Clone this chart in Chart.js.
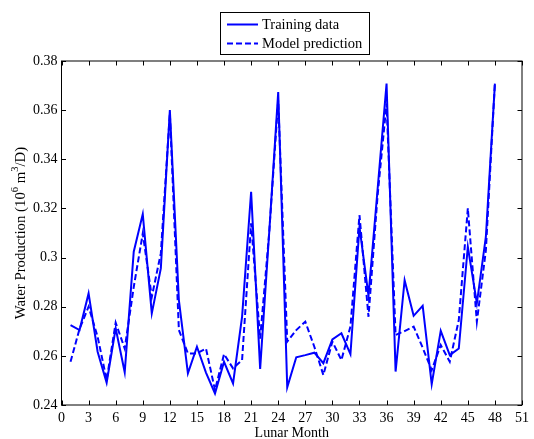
<!DOCTYPE html>
<html>
<head>
<meta charset="utf-8">
<script src="https://cdn.jsdelivr.net/npm/chart.js@4/dist/chart.umd.min.js"></script>
<style>
  html, body { margin: 0; padding: 0; background: #fff; }
  #wrap { width: 534px; height: 439px; }
</style>
</head>
<body>
<div id="wrap"><canvas id="chart" width="534" height="439"></canvas></div>
<script>
const months = [1, 2, 3, 4, 5, 6, 7, 8, 9, 10, 11, 12, 13, 14, 15, 16, 17, 18, 19, 20, 21, 22, 23, 24,
    25, 26, 27, 28, 29, 30, 31, 32, 33, 34, 35, 36, 37, 38, 39, 40, 41, 42, 43, 44, 45, 46, 47, 48];

const trainingData = [
    0.2725, 0.2705, 0.2854, 0.2617, 0.2491, 0.2712, 0.2533, 0.3024, 0.3177, 0.2773, 0.2956, 0.3600,
    0.2827, 0.2529, 0.2637, 0.2532, 0.2447, 0.2576, 0.2488, 0.2760, 0.3268, 0.2547, 0.3100, 0.3674,
    0.2472, 0.2594, 0.2603, 0.2613, 0.2570, 0.2667, 0.2692, 0.2607, 0.3125, 0.2845, 0.3275, 0.3708,
    0.2536, 0.2908, 0.2763, 0.2804, 0.2485, 0.2702, 0.2603, 0.2630, 0.3044, 0.2814, 0.3085, 0.3708
];

const modelPrediction = [
    0.2576, 0.2710, 0.2800, 0.2678, 0.2502, 0.2735, 0.2630, 0.2880, 0.3098, 0.2840, 0.3017, 0.3587,
    0.2705, 0.2610, 0.2610, 0.2630, 0.2461, 0.2607, 0.2549, 0.2583, 0.3139, 0.2670, 0.3100, 0.3640,
    0.2658, 0.2705, 0.2739, 0.2637, 0.2522, 0.2658, 0.2583, 0.2719, 0.3173, 0.2759, 0.3250, 0.3627,
    0.2685, 0.2701, 0.2719, 0.2633, 0.2542, 0.2644, 0.2576, 0.2746, 0.3200, 0.2739, 0.3030, 0.3711
];

const seriesNames = ['Training data', 'Model prediction'];
const xTitle = 'Lunar Month';
const yTitleParts = [['Water Production (10', false], ['6', true], [' m', false], ['3', true], ['/D)', false]];

const blue = '#0000ff';
const serif = '"Liberation Serif", "Times New Roman", serif';

// box, inward ticks, legend and axis titles (matlab look)
const matlabFrame = {
    id: 'matlabFrame',
    afterDraw(chart) {
        const ctx = chart.ctx;
        const a = chart.chartArea;
        const xs = chart.scales.x, ys = chart.scales.y;
        ctx.save();
        ctx.strokeStyle = '#000';
        ctx.lineWidth = 1;
        ctx.strokeRect(a.left, a.top, a.right - a.left, a.bottom - a.top);

        const tl = 4.5;
        ctx.beginPath();
        xs.ticks.forEach(t => {
            const px = Math.round(xs.getPixelForValue(t.value)) + 0.5;
            ctx.moveTo(px, a.bottom); ctx.lineTo(px, a.bottom - tl);
            ctx.moveTo(px, a.top); ctx.lineTo(px, a.top + tl);
        });
        ys.ticks.forEach(t => {
            const py = Math.round(ys.getPixelForValue(t.value)) + 0.5;
            ctx.moveTo(a.left, py); ctx.lineTo(a.left + tl, py);
            ctx.moveTo(a.right, py); ctx.lineTo(a.right - tl, py);
        });
        ctx.stroke();

        // legend
        ctx.strokeRect(220.5, 12.5, 149, 42);
        const rows = [24.5, 43.5];
        ctx.font = '14.5px ' + serif;
        ctx.textBaseline = 'middle';
        ctx.fillStyle = '#000';
        chart.data.datasets.forEach((ds, i) => {
            ctx.save();
            ctx.strokeStyle = ds.borderColor;
            ctx.lineWidth = 2;
            ctx.setLineDash(ds.borderDash || []);
            ctx.beginPath();
            ctx.moveTo(227, rows[i]);
            ctx.lineTo(258, rows[i]);
            ctx.stroke();
            ctx.restore();
            ctx.fillText(ds.label, 262, rows[i] + 0.5);
        });

        // x title
        ctx.font = '14px ' + serif;
        ctx.textAlign = 'center';
        ctx.fillText(xTitle, (a.left + a.right) / 2, 433);

        // y title with superscripts, centred on the plot
        const fontFor = sup => (sup ? '10.5px ' : '14.8px ') + serif;
        let total = 0;
        yTitleParts.forEach(([txt, sup]) => {
            ctx.font = fontFor(sup);
            total += ctx.measureText(txt).width;
        });
        ctx.translate(21.5, (a.top + a.bottom) / 2 + total / 2);
        ctx.rotate(-Math.PI / 2);
        ctx.textAlign = 'left';
        ctx.textBaseline = 'middle';
        let x = 0;
        yTitleParts.forEach(([txt, sup]) => {
            ctx.font = fontFor(sup);
            ctx.fillText(txt, x, sup ? -6 : 0);
            x += ctx.measureText(txt).width;
        });
        ctx.restore();
    }
};

new Chart(document.getElementById('chart'), {
    type: 'line',
    data: {
        datasets: [
            {
                label: seriesNames[0],
                data: months.map((m, i) => ({ x: m, y: trainingData[i] })),
                borderColor: blue,
                borderWidth: 2,
                pointRadius: 0,
                tension: 0,
                fill: false
            },
            {
                label: seriesNames[1],
                data: months.map((m, i) => ({ x: m, y: modelPrediction[i] })),
                borderColor: blue,
                borderWidth: 2,
                borderDash: [6, 3],
                pointRadius: 0,
                tension: 0,
                fill: false
            }
        ]
    },
    options: {
        responsive: false,
        animation: false,
        layout: { padding: { top: 61, right: 9, left: 0, bottom: 0 } },
        plugins: {
            legend: { display: false },
            tooltip: { enabled: false }
        },
        scales: {
            x: {
                type: 'linear',
                min: 0,
                max: 51,
                afterFit: s => { s.height = 34; },
                grid: { display: false, drawTicks: false },
                border: { display: false },
                ticks: {
                    stepSize: 3,
                    padding: 5,
                    color: '#000',
                    font: { family: serif, size: 14 },
                    maxRotation: 0,
                    autoSkip: false
                }
            },
            y: {
                min: 0.24,
                max: 0.38,
                afterFit: s => { s.width = 61.5; },
                grid: { display: false, drawTicks: false },
                border: { display: false },
                ticks: {
                    stepSize: 0.02,
                    padding: 4,
                    color: '#000',
                    font: { family: serif, size: 14 },
                    callback: v => String(+v.toFixed(2))
                }
            }
        }
    },
    plugins: [matlabFrame]
});
</script>
</body>
</html>
